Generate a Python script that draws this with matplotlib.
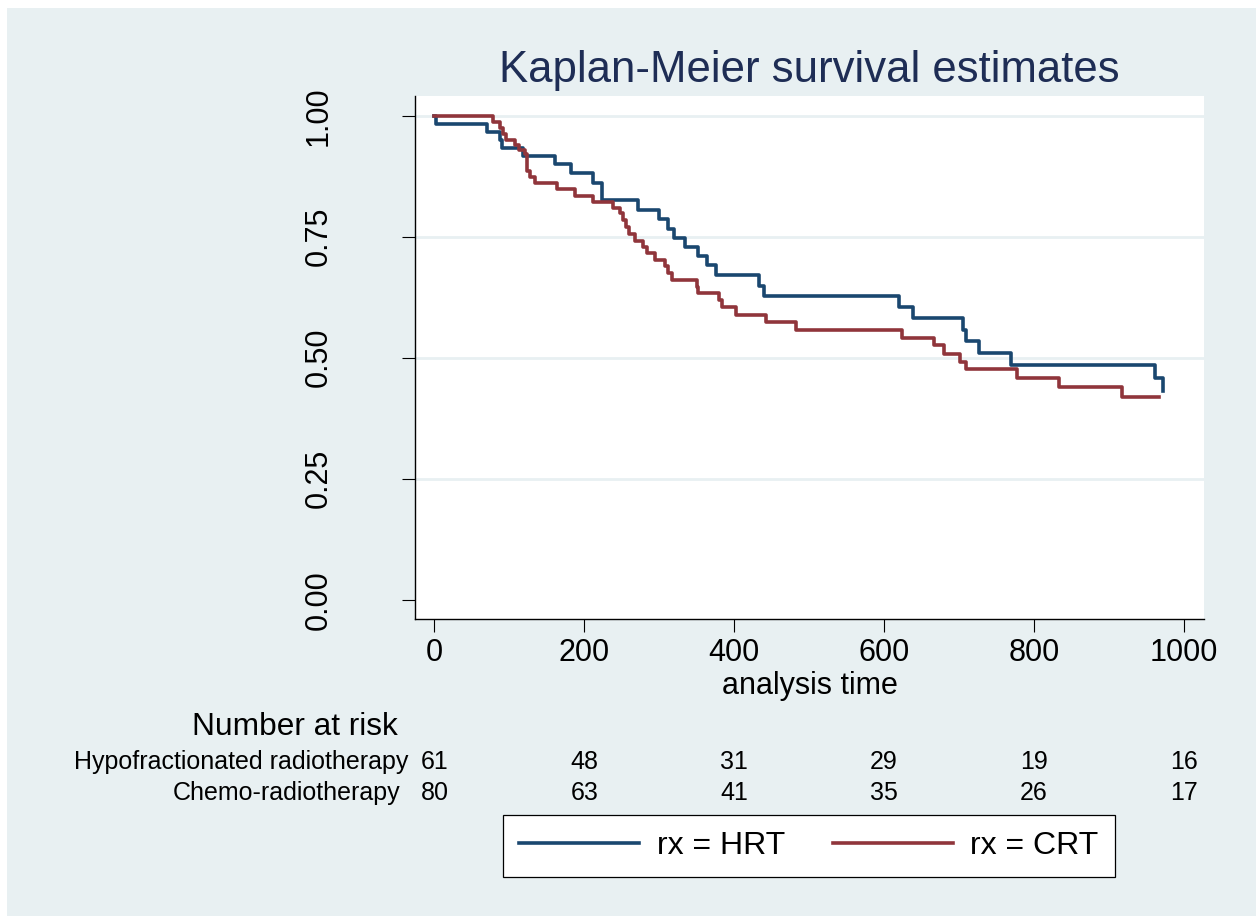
import numpy as np
import matplotlib
matplotlib.use("Agg")
import matplotlib.pyplot as plt
from matplotlib.lines import Line2D
from matplotlib.patches import Rectangle
from matplotlib.transforms import blended_transform_factory

plt.rcParams['font.family'] = ['Liberation Sans', 'DejaVu Sans']

# ---- data ----
hrt_times = [0, 2, 70, 87, 90, 118, 161, 182, 211, 224, 271, 299, 311, 319, 335, 352,
             364, 376, 433, 440, 620, 638, 705, 709, 727, 769, 961, 972]
hrt_surv = [1.0, 0.984, 0.967, 0.951, 0.934, 0.918, 0.900, 0.881, 0.862, 0.826, 0.806,
            0.786, 0.767, 0.748, 0.728, 0.710, 0.691, 0.670, 0.648, 0.627, 0.605, 0.582,
            0.557, 0.534, 0.510, 0.485, 0.458, 0.432]
hrt_end = 972

crt_times = [0, 78, 88, 91, 95, 108, 113, 121, 124, 127, 134, 164, 187, 212, 238, 247,
             251, 255, 259, 267, 278, 283, 294, 307, 311, 317, 350, 352, 380, 384, 403,
             442, 482, 624, 666, 680, 701, 709, 778, 833, 918]
crt_surv = [1.0, 0.9875, 0.975, 0.9625, 0.95, 0.940, 0.930, 0.921, 0.887, 0.873, 0.861,
            0.849, 0.835, 0.822, 0.810, 0.799, 0.784, 0.770, 0.756, 0.742, 0.728, 0.716,
            0.702, 0.689, 0.676, 0.661, 0.647, 0.633, 0.619, 0.605, 0.589, 0.573, 0.557,
            0.541, 0.526, 0.508, 0.492, 0.477, 0.458, 0.439, 0.418]
crt_end = 967

risk_times = [0, 200, 400, 600, 800, 1000]
risk_hrt = [61, 48, 31, 29, 19, 16]
risk_crt = [80, 63, 41, 35, 26, 17]
group_labels = ["Hypofractionated radiotherapy", "Chemo-radiotherapy"]
legend_labels = ["rx = HRT", "rx = CRT"]
xticks = [0, 200, 400, 600, 800, 1000]
yticks = [0.0, 0.25, 0.5, 0.75, 1.0]
ytick_labels = ["0.00", "0.25", "0.50", "0.75", "1.00"]

# ---- style ----
BG = "#E8F0F2"
HRT_C = "#1A476F"
CRT_C = "#90353B"
TITLE_C = "#1E2D55"
W, H = 1256, 916

fig = plt.figure(figsize=(W / 100, H / 100), dpi=100)
fig.patch.set_facecolor("white")
fig.add_artist(Rectangle((7 / W, 0), 1, 1 - 8 / H, transform=fig.transFigure,
                         facecolor=BG, edgecolor="none", zorder=-10))

ax = fig.add_axes([415 / W, 1 - 619 / H, (1204 - 415) / W, (619 - 96) / H])
ax.set_facecolor("white")
ax.set_xlim(-26, 1027)
ax.set_ylim(-0.040, 1.041)

for s in ["top", "right"]:
    ax.spines[s].set_visible(False)
for s in ["left", "bottom"]:
    ax.spines[s].set_linewidth(1.0)
    ax.spines[s].set_color("black")

ax.set_yticks(yticks)
ax.set_yticklabels(ytick_labels)
ax.set_xticks(xticks)
ax.tick_params(axis="y", labelsize=22, length=9.5, width=0.8, pad=49, labelrotation=90)
ax.tick_params(axis="x", labelsize=22, length=9, width=0.8, pad=5)
for lab in ax.get_yticklabels():
    lab.set_va("center")

ax.yaxis.grid(True, color=BG, linewidth=2.0)
ax.set_axisbelow(True)
ax.get_ygridlines()[0].set_visible(False)

ht = np.append(hrt_times, hrt_end)
hs = np.append(hrt_surv, hrt_surv[-1])
ct = np.append(crt_times, crt_end)
cs = np.append(crt_surv, crt_surv[-1])
ax.step(ht, hs, where="post", color=HRT_C, lw=2.6, zorder=3)
ax.step(ct, cs, where="post", color=CRT_C, lw=2.6, zorder=3)

ax.set_title("Kaplan-Meier survival estimates", fontsize=31.5, color=TITLE_C, pad=10)
ax.set_xlabel("analysis time", fontsize=22, va="center")
ax.xaxis.set_label_coords(0.5, (619 - 686) / (619 - 96))

# ---- number at risk table ----
tr = blended_transform_factory(ax.transData, fig.transFigure)
fig.text(295 / W, 1 - 727 / H, "Number at risk", fontsize=22.8, ha="center", va="center")
row_y = [1 - 762 / H, 1 - 793 / H]
fig.text(408 / W, row_y[0], group_labels[0], fontsize=18, ha="right", va="center")
fig.text(400 / W, row_y[1], group_labels[1], fontsize=18, ha="right", va="center")
for t, a, b in zip(risk_times, risk_hrt, risk_crt):
    ax.text(t, row_y[0], str(a), transform=tr, fontsize=18, ha="center", va="center", clip_on=False)
    ax.text(t, row_y[1], str(b), transform=tr, fontsize=18, ha="center", va="center", clip_on=False)

# ---- legend ----
handles = [Line2D([], [], color=HRT_C, lw=2.6), Line2D([], [], color=CRT_C, lw=2.6)]
leg = fig.legend(handles, legend_labels, loc="center", bbox_to_anchor=(809 / W, 1 - 846 / H),
                 ncol=2, fontsize=23, frameon=True, fancybox=False, edgecolor="black",
                 facecolor="white", framealpha=1, handlelength=3.75, handletextpad=0.55,
                 columnspacing=1.5, borderpad=0.5)
leg.get_frame().set_linewidth(0.9)

fig.savefig("out.png", dpi=100, facecolor=fig.get_facecolor())
